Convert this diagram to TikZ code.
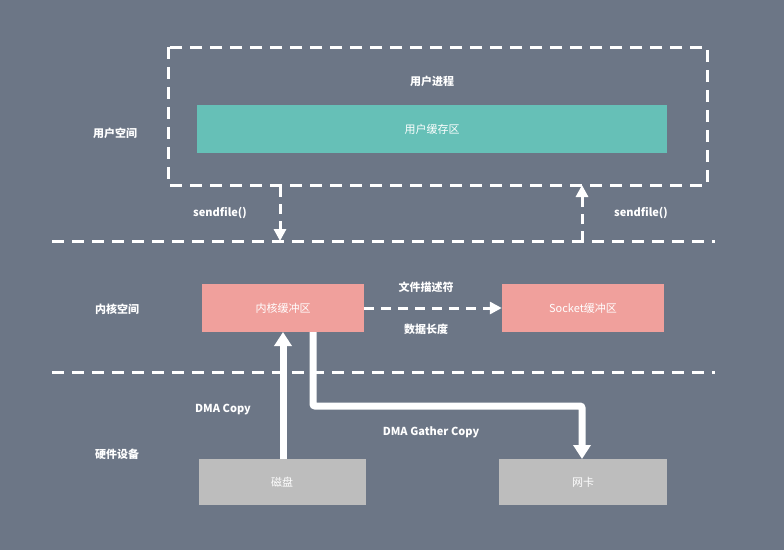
\documentclass[tikz,border=0pt]{standalone}
\usepackage{fontspec}
\setmainfont{Noto Sans CJK SC}
\usetikzlibrary{arrows.meta}
\definecolor{bg}{HTML}{6C7686}
\definecolor{teal}{HTML}{66C0B7}
\definecolor{pink}{HTML}{F0A09C}
\definecolor{hw}{HTML}{BDBDBD}
\tikzset{
  dashline/.style={white, line width=3pt, dash pattern=on 12pt off 8pt},
  box/.style={draw=none, minimum height=48pt, text=white, font=\fontsize{11}{13}\selectfont, inner sep=0pt},
  lbl/.style={text=white, font=\fontsize{11}{13}\selectfont\bfseries, inner sep=0pt},
  darr/.style={white, line width=3pt, dash pattern=on 10pt off 7pt, -{Triangle[length=12pt,width=12pt]}},
  fatarr/.style={white, line width=7pt, -{Triangle[length=14pt,width=17pt]}}
}
\begin{document}
\begin{tikzpicture}[x=1pt,y=-1pt]
\fill[bg] (0,0) rectangle (784,550);
\useasboundingbox (0,0) rectangle (784,550);
% user space box
\draw[dashline] (168,47) rectangle (707,185);
\node[lbl] (proc) at (432,81) {用户进程};
\node[box, fill=teal, minimum width=470pt] (ubuf) at (432,129) {用户缓存区};
\node[lbl] (us) at (115,133) {用户空间};
% separators
\draw[dashline] (52,241) -- (715,241);
\draw[dashline] (52,372) -- (715,372);
\node[lbl] (ks) at (117,309) {内核空间};
\node[lbl] (hs) at (117,454) {硬件设备};
% boxes
\node[box, fill=pink, minimum width=162pt] (kbuf) at (283,308) {内核缓冲区};
\node[box, fill=pink, minimum width=162pt] (sbuf) at (583,308) {Socket缓冲区};
\node[box, fill=hw, minimum width=167pt, minimum height=46pt] (disk) at (282,482) {磁盘};
\node[box, fill=hw, minimum width=168pt, minimum height=46pt] (nic) at (583,482) {网卡};
% sendfile arrows
\coordinate (a1) at (280,187);
\coordinate (a2) at (280,241);
\coordinate (b1) at (582,241);
\coordinate (b2) at (582,185);
\draw[darr] (a1) -- (a2);
\draw[darr] (b1) -- (b2);
\node[lbl] (sf1) at (220,213) {sendfile()};
\node[lbl] (sf2) at (641,213) {sendfile()};
% kernel -> socket
\draw[darr] (kbuf.east) -- (sbuf.west);
\node[lbl] (fd) at (426,287) {文件描述符};
\node[lbl] (len) at (426,329) {数据长度};
% DMA
\coordinate (d1) at (283,459);
\coordinate (d2) at (283,332);
\draw[fatarr] (d1) -- (d2);
\node[lbl] (dma) at (223,410) {DMA Copy};
\coordinate (g1) at (313,332);
\coordinate (g2) at (582,459);
\draw[fatarr, rounded corners=2pt] (g1) |- (582,406) -- (g2);
\node[lbl] (gc) at (431,432) {DMA Gather Copy};
\end{tikzpicture}
\end{document}
